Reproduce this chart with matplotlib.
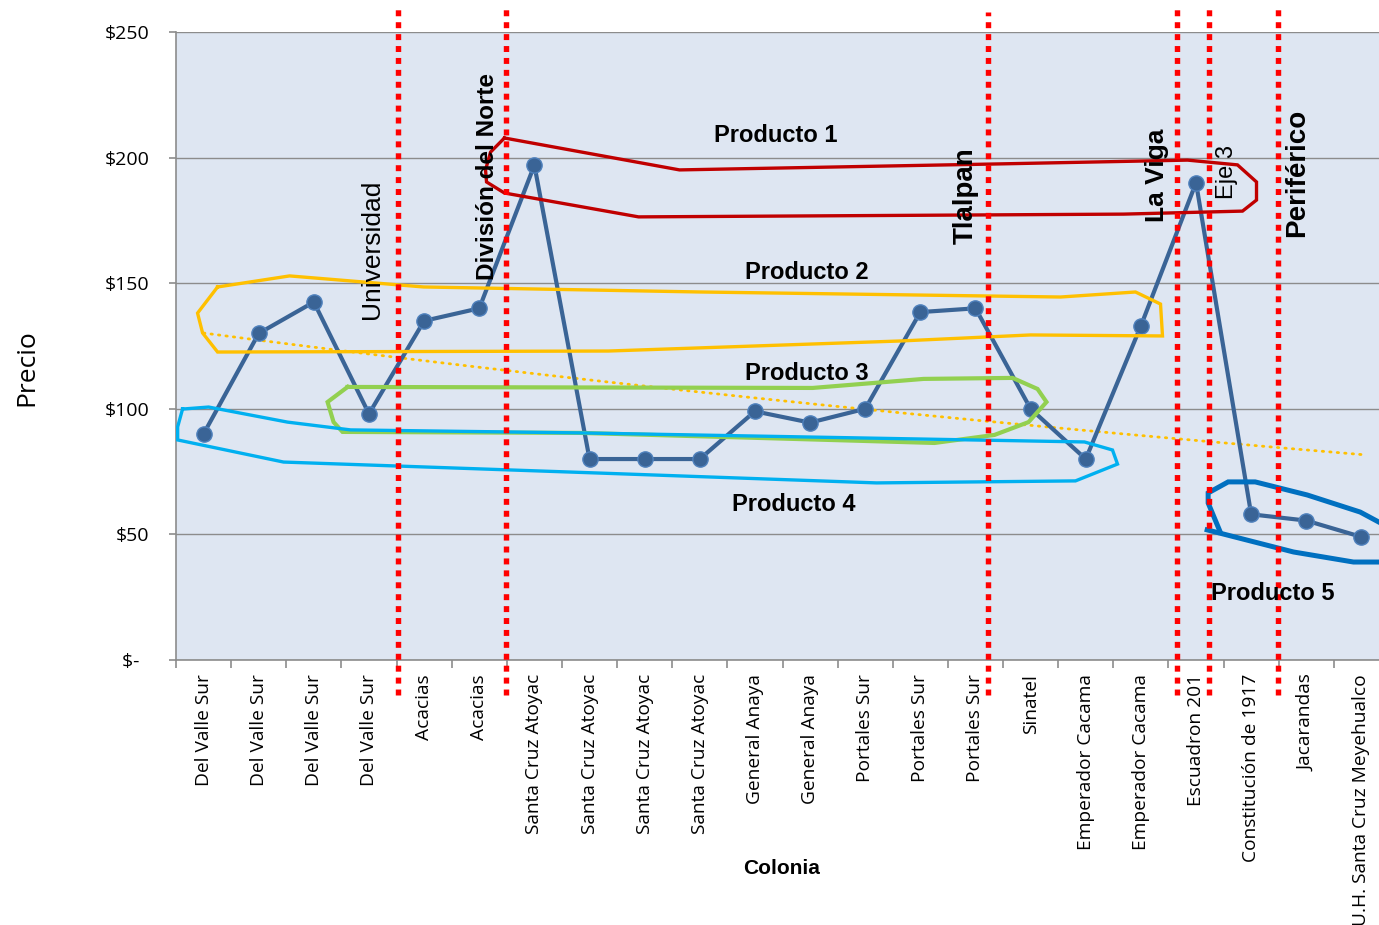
import numpy as np
import matplotlib
matplotlib.use("Agg")
import matplotlib.pyplot as plt

# ---- data -------------------------------------------------------------
colonias = [
    "Del Valle Sur", "Del Valle Sur", "Del Valle Sur", "Del Valle Sur",
    "Acacias", "Acacias",
    "Santa Cruz Atoyac", "Santa Cruz Atoyac", "Santa Cruz Atoyac", "Santa Cruz Atoyac",
    "General Anaya", "General Anaya",
    "Portales Sur", "Portales Sur", "Portales Sur",
    "Sinatel", "Emperador Cacama", "Emperador Cacama",
    "Escuadron 201", "Constitución de 1917", "Jacarandas",
    "U.H. Santa Cruz Meyehualco",
]
precios = [90, 130, 142.5, 98, 135, 140, 197, 80, 80, 80, 99, 94.5,
           100, 138.5, 140, 100, 80, 133, 190, 58, 55.5, 49]

# exponential trend, sampled at a few colonias
tendencia_x = [0, 7, 12, 16, 21]
tendencia_y = [130, 111.5, 100, 91.5, 81.6]

y_ticks = [0, 50, 100, 150, 200, 250]
y_tick_labels = ["$-  ", "$50", "$100", "$150", "$200", "$250"]

# main roads crossing the route (position between colonias)
calles = ["Universidad", "División del Norte", "Tlalpan", "La Viga", "Eje 3", "Periférico"]
calles_x = [3.52, 5.48, 14.22, 17.66, 18.24, 19.48]
calles_bold = [False, True, True, True, False, True]
calles_label_xy = [(3.06, 163.6), (5.15, 192.3), (13.82, 184.7),
                   (17.30, 193.1), (18.57, 194.3), (19.84, 193.9)]
calles_size = [19, 17.5, 20, 19, 17, 20]

# product groupings (outlines in category / price units)
productos = ["Producto 1", "Producto 2", "Producto 3", "Producto 4", "Producto 5"]
productos_label_xy = [(10.37, 208.6), (10.94, 154.4), (10.94, 114.0),
                      (10.70, 62.0), (19.40, 26.4)]
contorno_p1 = [(5.457, 207.8), (8.632, 195.1), (14.454, 197.5), (17.846, 199.0),
               (18.752, 197.1), (19.097, 190.3), (19.097, 183.1), (18.843, 178.7),
               (16.685, 177.5), (7.889, 176.4), (5.457, 185.9), (5.132, 190.3),
               (5.114, 195.1), (5.205, 202.2), (5.457, 207.8)]
contorno_p2 = [(0.254, 148.5), (1.560, 152.9), (3.990, 148.5), (9.013, 146.5),
               (15.542, 144.5), (16.902, 146.5), (17.356, 141.7), (17.392, 129.0),
               (14.998, 129.4), (12.640, 127.0), (7.345, 123.0), (0.254, 122.6),
               (-0.018, 130.2), (-0.109, 138.1), (0.254, 148.5)]
contorno_p3 = [(2.612, 108.7), (11.045, 108.3), (13.058, 111.9), (14.672, 112.3),
               (15.125, 107.9), (15.288, 102.7), (14.962, 94.7), (14.345, 89.6),
               (13.257, 86.4), (10.718, 88.0), (6.837, 90.4), (2.521, 90.8),
               (2.358, 94.7), (2.249, 102.7), (2.612, 108.7)]
contorno_p4 = [(-0.381, 99.9), (0.091, 100.7), (1.523, 94.7), (2.666, 91.6),
               (6.837, 90.4), (15.977, 86.8), (16.485, 83.6), (16.576, 78.0),
               (15.814, 71.3), (12.205, 70.5), (7.200, 74.4), (1.451, 78.8),
               (-0.47, 87.6), (-0.47, 92.8), (-0.381, 99.9)]
contorno_p5 = [(21.52, 52.5), (20.977, 58.9), (20.016, 65.7), (19.073, 70.9),
               (18.583, 70.9), (18.220, 66.5), (18.220, 62.5), (18.438, 51.0)]
contorno_p5_base = [(18.202, 51.8), (19.768, 43.0), (20.856, 39.0), (21.52, 39.0)]

contornos = [contorno_p1, contorno_p2, contorno_p3, contorno_p4, contorno_p5]
colores = ["#C00000", "#FFC000", "#92D050", "#00B0F0", "#0070C0"]
grosores = [2.4, 2.4, 3.0, 2.4, 3.6]

# ---- figure -----------------------------------------------------------
W, H = 1379, 925
fig = plt.figure(figsize=(W / 100, H / 100), dpi=100)
ax = fig.add_axes([176 / W, 1 - 660 / H, 1213 / W, 628 / H])
ax.set_facecolor("#DEE6F2")

x = np.arange(len(precios))
ax.set_xlim(-0.5, len(precios) - 0.5)
ax.set_ylim(0, 250)

# grid
ax.set_axisbelow(True)
ax.yaxis.grid(True, color="#8C8C8C", linewidth=1.0)
for s in ["top", "right"]:
    ax.spines[s].set_visible(False)
for s in ["left", "bottom"]:
    ax.spines[s].set_color("#8C8C8C")
    ax.spines[s].set_linewidth(1.2)

# price series
ax.plot(x, precios, color="#3A6496", linewidth=3.0, marker="o", markersize=11,
        markerfacecolor="#3A6496", markeredgecolor="#4F81BD", markeredgewidth=1.0,
        zorder=3)

# exponential trend line y = a*exp(b*x)
b, ln_a = np.polyfit(tendencia_x, np.log(tendencia_y), 1)
tx = np.linspace(tendencia_x[0], tendencia_x[-1], 200)
ax.plot(tx, np.exp(ln_a + b * tx), color="#FFC000", linewidth=2.0,
        linestyle=(0, (0.5, 2.2)), dash_capstyle="round", zorder=2)

# product outlines
for pts, c, lw in zip(contornos, colores, grosores):
    px, py = zip(*pts)
    ax.plot(px, py, color=c, linewidth=lw, solid_joinstyle="miter", zorder=4)
bx, by = zip(*contorno_p5_base)
ax.plot(bx, by, color=colores[4], linewidth=grosores[4], zorder=4)

for name, (lx, ly) in zip(productos, productos_label_xy):
    ax.text(lx, ly, name, ha="center", va="center", fontsize=17,
            fontweight="bold", family="Liberation Sans", zorder=6)

# roads
for cx, name, bold, (lx, ly), fs in zip(calles_x, calles, calles_bold,
                                         calles_label_xy, calles_size):
    top = 1.032 if name == "Tlalpan" else 1.038
    ax.axvline(cx, ymin=-0.056, ymax=top, color="#FF0000", linewidth=3.9,
               linestyle=(0, (1.1, 1.1)), dash_capstyle="butt", clip_on=False,
               zorder=5)
    ax.text(lx, ly, name, rotation=90, ha="center", va="center", fontsize=fs,
            fontweight="bold" if bold else "normal", family="Liberation Sans",
            zorder=6)

# axes ticks
ax.set_yticks(y_ticks)
ax.set_yticklabels(y_tick_labels, family="Open Sans", fontsize=14)
ax.tick_params(axis="y", length=5, width=1.2, color="#8C8C8C", pad=14)

ax.set_xticks(x)
ax.set_xticklabels(colonias, rotation=90, family="Open Sans", fontsize=13.8,
                   va="top", ha="center")
ax.set_xticks(np.arange(-0.5, len(precios), 1), minor=True)
ax.tick_params(axis="x", which="major", length=0, pad=10)
ax.tick_params(axis="x", which="minor", length=6, width=1.2, color="#8C8C8C")

fig.text(27 / W, 1 - 368 / H, "Precio", rotation=90, ha="center", va="center",
         family="Open Sans", fontsize=19)
fig.text(782 / W, 1 - 868 / H, "Colonia", ha="center", va="center",
         family="Liberation Sans", fontweight="bold", fontsize=15)

fig.savefig("out.png", dpi=100)
